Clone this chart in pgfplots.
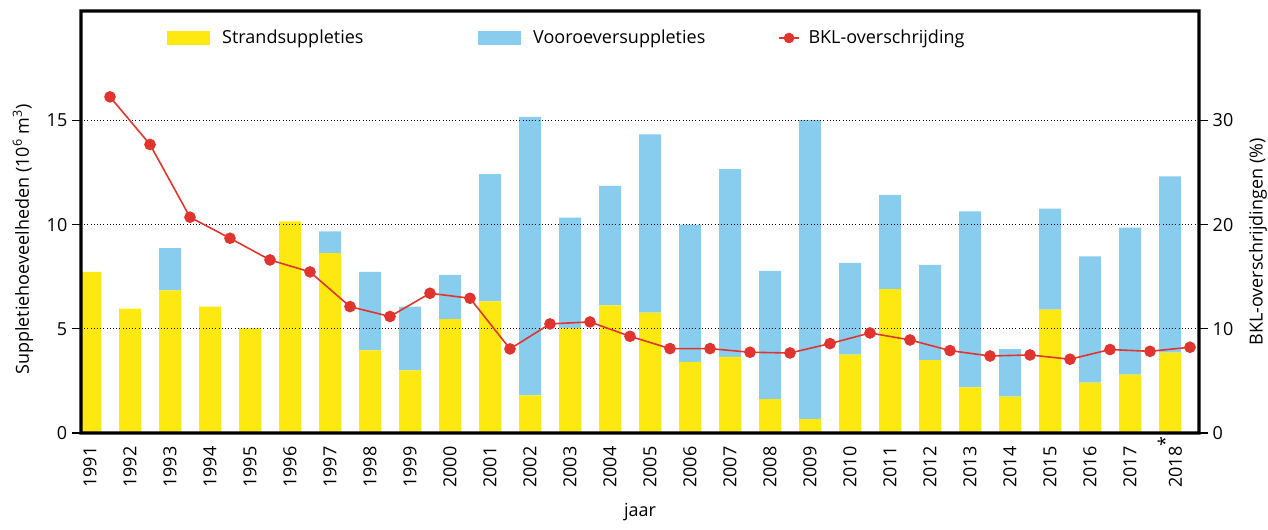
\documentclass[border=0pt]{standalone}
\usepackage{fontspec}
\setmainfont{Open Sans}
\usepackage{pgfplots}
\pgfplotsset{compat=1.18}
\definecolor{geel}{HTML}{FDE90F}
\definecolor{blauw}{HTML}{88CDEE}
\definecolor{rood}{HTML}{E0352F}
\newcommand{\fs}{\fontsize{13.5}{16}\selectfont}

\pgfplotstableread{
jaar strand vooroever
1991 7.73 0
1992 5.97 0
1993 6.84 2.03
1994 6.07 0
1995 5.03 0
1996 10.15 0
1997 8.63 1.04
1998 3.96 3.77
1999 3.00 3.07
2000 5.46 2.13
2001 6.32 6.10
2002 1.81 13.36
2003 5.04 5.30
2004 6.13 5.73
2005 5.78 8.55
2006 3.41 6.59
2007 3.65 9.01
2008 1.62 6.16
2009 0.66 14.35
2010 3.76 4.40
2011 6.90 4.53
2012 3.50 4.57
2013 2.19 8.44
2014 1.75 2.28
2015 5.92 4.85
2016 2.42 6.06
2017 2.80 7.06
2018 3.86 8.46
}\suppl

\pgfplotstableread{
x bkl
1991.5 32.26
1992.5 27.69
1993.5 20.71
1994.5 18.69
1995.5 16.61
1996.5 15.46
1997.5 12.13
1998.5 11.18
1999.5 13.41
2000.5 12.93
2001.5 8.07
2002.5 10.47
2003.5 10.66
2004.5 9.28
2005.5 8.10
2006.5 8.10
2007.5 7.75
2008.5 7.68
2009.5 8.58
2010.5 9.60
2011.5 8.93
2012.5 7.91
2013.5 7.39
2014.5 7.49
2015.5 7.08
2016.5 8.01
2017.5 7.84
2018.5 8.23
}\bkl

\pgfplotsset{
  geelleg/.style={legend image code/.code={\fill[geel] (0pt,-5.6pt) rectangle (32.25pt,5.6pt); \path (0pt,0pt) -- (41.25pt,0pt);}},
  blauwleg/.style={legend image code/.code={\fill[blauw] (0pt,-5.6pt) rectangle (32.25pt,5.6pt); \path (0pt,0pt) -- (41.25pt,0pt);}},
}

\begin{document}
\begin{tikzpicture}
\path[use as bounding box] (0pt,0pt) rectangle (951pt,396.75pt);
\begin{axis}[
  name=ax,
  at={(60.75pt,72pt)}, anchor=south west,
  width=838.5pt, height=316.5pt, scale only axis,
  xmin=1990.775, xmax=2018.725,
  ymin=0, ymax=20.25,
  ybar stacked, bar width=16.5pt,
  axis on top,
  tick align=outside, major tick length=6.75pt,
  ytick pos=left, ytick={0,5,10,15},
  ytick style={line width=1pt, black},
  xtick={1991,...,2018},
  xticklabels={1991,1992,1993,1994,1995,1996,1997,1998,1999,2000,2001,2002,2003,2004,2005,2006,2007,2008,2009,2010,2011,2012,2013,2014,2015,2016,2017,2018\rlap{\raisebox{8pt}{*}}},
  xtick style={draw=none},
  xticklabel style={rotate=90, anchor=east, font=\fs},
  yticklabel style={font=\fs},
  /pgf/number format/assume math mode=true,
  ymajorgrids, grid style={dotted, black, line width=0.7pt},
  xlabel={jaar},
  xlabel style={at={(axis description cs:0.5,0)}, anchor=center, yshift=-59.25pt, font=\fs},
  ylabel={Suppletiehoeveelheden (10\textsuperscript{6} m\textsuperscript{3})},
  ylabel style={at={(axis description cs:-0.0519,0.4585)}, anchor=center, font=\fs},
  legend columns=3,
  legend style={at={(axis description cs:0.0769,0.936)}, anchor=west, draw=none, fill=none,
     inner sep=0pt, column sep=0pt, nodes={inner sep=0pt, anchor=west}, font=\fs},
]
\addplot[fill=geel, draw=none, geelleg] table[x=jaar, y=strand] {\suppl};
\addlegendentry{\makebox[192pt][l]{Strandsuppleties}}
\addplot[fill=blauw, draw=none, blauwleg] table[x=jaar, y=vooroever] {\suppl};
\addlegendentry{\makebox[183.75pt][l]{Vooroeversuppleties}}
\addlegendimage{legend image code/.code={\draw[rood, line width=1.2pt] (0pt,0pt) -- (15pt,0pt); \fill[rood] (7.5pt,0pt) circle (3.75pt);}}
\addlegendentry{\hspace{6.5pt}BKL-overschrijding}
\end{axis}
\begin{axis}[
  at={(60.75pt,72pt)}, anchor=south west,
  width=838.5pt, height=316.5pt, scale only axis,
  xmin=1990.775, xmax=2018.725,
  ymin=0, ymax=40.5,
  axis y line*=right, axis x line=none,
  tick align=outside, major tick length=6.75pt,
  ytick={0,10,20,30},
  ytick style={line width=1pt, black},
  yticklabel style={font=\fs},
  /pgf/number format/assume math mode=true,
  ylabel={BKL-overschrijdingen (\%)},
  ylabel style={at={(axis description cs:1.0528,0.4526)}, anchor=center, font=\fs},
  clip=false,
]
\addplot[rood, line width=1.2pt, mark=*, mark size=3.75pt, mark options={fill=rood, draw=rood}]
  table[x=x, y=bkl] {\bkl};
\end{axis}
\fill[black, even odd rule]
  ([shift={(-1.2pt,-1.2pt)}]ax.south west) rectangle ([shift={(1.2pt,1.2pt)}]ax.north east)
  ([shift={(1.2pt,1.2pt)}]ax.south west) rectangle ([shift={(-1.2pt,-1.2pt)}]ax.north east);
\end{tikzpicture}
\end{document}
